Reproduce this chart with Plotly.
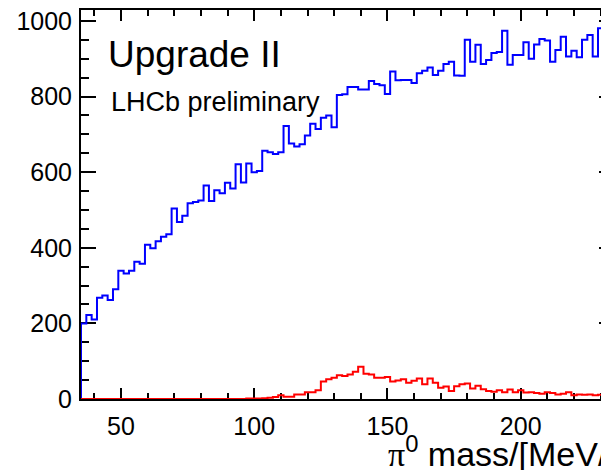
import plotly.graph_objects as go

# Histogram binning (MeV)
BIN_START = 35
BIN_WIDTH = 2

# Upper histogram (blue) bin contents
blue_counts = [
    200, 222, 210, 268, 274, 262, 290, 339, 332, 339,
    363, 358, 408, 399, 417, 429, 436, 504, 468, 485,
    518, 521, 525, 565, 524, 552, 544, 572, 557, 621,
    573, 623, 600, 603, 657, 653, 648, 653, 722, 676,
    668, 674, 697, 728, 714, 744, 750, 719, 804, 806,
    825, 825, 819, 819, 841, 833, 830, 807, 866, 843,
    844, 844, 836, 862, 868, 877, 857, 868, 886, 892,
    856, 855, 950, 892, 937, 886, 897, 915, 918, 974,
    884, 910, 910, 944, 900, 938, 952, 948, 892, 923,
    958, 906, 921, 904, 950, 963, 906, 981, 976, 970,
]

# Lower histogram (red) bin contents
red_counts = [
    0, 0, 0, 0, 0, 0, 0, 0, 0, 0,
    0, 0, 0, 0, 0, 0, 0, 0, 0, 0,
    0, 0, 0, 0, 0, 0, 0, 0, 0, 0,
    0, 1, 1, 1, 2, 3, 5, 10, 6, 6,
    12, 12, 18, 18, 23, 46, 52, 56, 63, 61,
    65, 72, 85, 67, 65, 56, 56, 58, 46, 49,
    52, 43, 48, 54, 39, 54, 43, 30, 33, 21,
    34, 39, 41, 28, 35, 26, 21, 19, 23, 18,
    25, 18, 23, 17, 18, 16, 14, 18, 16, 12,
    14, 18, 10, 12, 11, 12, 10, 11, 11, 10,
]

x_ticks = [50, 100, 150, 200]
y_ticks = [0, 200, 400, 600, 800, 1000]

edges = [BIN_START + BIN_WIDTH * i for i in range(len(blue_counts) + 1)]


def step_xy(counts):
    xs = [edges[0]] + edges[:-1] + [edges[-1]]
    ys = [0] + list(counts) + [counts[-1]]
    return xs, ys


fig = go.Figure()
bx, by = step_xy(blue_counts)
rx, ry = step_xy(red_counts)
fig.add_trace(go.Scatter(x=bx, y=by, mode="lines", line=dict(color="#0000ff", width=2, shape="hv"),
                         hoverinfo="skip", showlegend=False))
fig.add_trace(go.Scatter(x=rx, y=ry, mode="lines", line=dict(color="#ff0000", width=2, shape="hv"),
                         hoverinfo="skip", showlegend=False))

FONT = "Liberation Sans, Arial, Helvetica, sans-serif"

# page body has an 8px margin; plot frame: left 73, top 2, right 606, bottom 391 (figure px)
L, T, R, B = 73, 2, 3, 79
W, H = 609, 470
PW, PH = W - L - R, H - T - B

fig.update_layout(
    width=W, height=H,
    margin=dict(l=L, r=R, t=T, b=B, autoexpand=False),
    paper_bgcolor="white", plot_bgcolor="white",
    font=dict(family=FONT, size=25, color="black"),
    showlegend=False,
)
fig.update_xaxes(
    range=[35, 235], tickvals=x_ticks, ticktext=[str(v) for v in x_ticks],
    ticks="inside", ticklen=11, tickwidth=1.5, tickcolor="black",
    showline=True, linecolor="black", linewidth=2, mirror="ticks",
    showgrid=False, zeroline=False, layer="below traces", automargin=False,
    tickfont=dict(family=FONT, size=25, color="black"), ticklabelstandoff=4,
    ticklabeloverflow="allow",
    minor=dict(dtick=10, tick0=0, ticks="inside", ticklen=6, tickwidth=1.5, tickcolor="black", showgrid=False),
)
fig.update_yaxes(
    range=[0, 1029], tickvals=y_ticks, ticktext=[str(v) for v in y_ticks],
    ticks="inside", ticklen=15, tickwidth=1.5, tickcolor="black",
    showline=True, linecolor="black", linewidth=2, mirror="ticks",
    showgrid=False, zeroline=False, layer="below traces", automargin=False,
    tickfont=dict(family=FONT, size=25, color="black"), ticklabelstandoff=2,
    ticklabeloverflow="allow",
    minor=dict(dtick=50, tick0=0, ticks="inside", ticklen=8, tickwidth=1.5, tickcolor="black", showgrid=False),
)

fig.add_annotation(text="Upgrade II", xref="paper", yref="paper", x=(98 - L) / PW,
                   y=1 - (24 - T) / PH,
                   xanchor="left", yanchor="top", showarrow=False,
                   font=dict(family=FONT, size=37, color="black"))
fig.add_annotation(text="LHCb preliminary", xref="paper", yref="paper", x=(101 - L) / PW,
                   y=1 - (77 - T) / PH,
                   xanchor="left", yanchor="top", showarrow=False,
                   font=dict(family=FONT, size=27, color="black"))
fig.add_annotation(text="<span style='font-family:Liberation Serif, Times New Roman, serif'>π</span><sup>0</sup> mass/[MeV/c<sup>2</sup>]",
                   xref="paper", yref="paper", x=(378 - L) / PW, y=-(420 - (H - B)) / PH,
                   xanchor="left", yanchor="top", showarrow=False,
                   font=dict(family=FONT, size=34, color="black"))

fig.write_html("out.html")
